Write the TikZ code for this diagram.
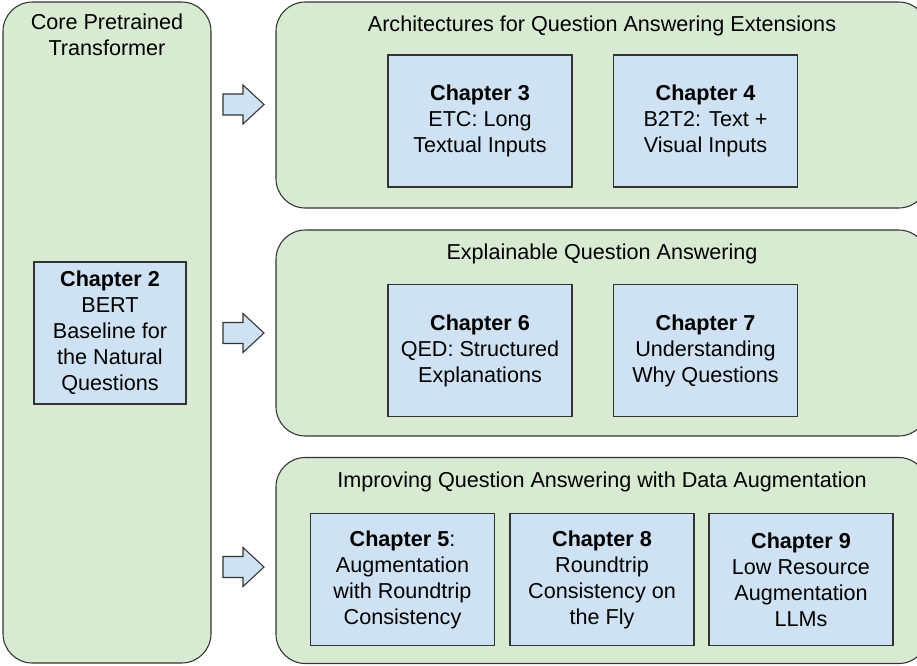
\documentclass[tikz,border=0pt]{standalone}
\usepackage{fontspec}
\setmainfont{Liberation Sans}

\definecolor{groupgreen}{HTML}{D9EAD3}
\definecolor{chapblue}{HTML}{CFE2F3}
\definecolor{edgegray}{HTML}{333333}

\begin{document}
\begin{tikzpicture}[
    x = 0.75pt, y = -0.75pt,
    font = \fontsize{16.2}{19.5}\selectfont,
    group/.style = {
      draw = edgegray,
      fill = groupgreen,
      line width = 0.8pt,
      rounded corners = 22pt,
      inner sep = 0,
    },
    chapter/.style = {
      draw = edgegray,
      fill = chapblue,
      line width = 0.8pt,
      align = center,
      inner sep = 0,
      minimum width = 138pt,
      minimum height = 99pt,
    },
    bigarrow/.style = {
      draw = edgegray,
      fill = chapblue,
      line width = 0.8pt,
      line join = miter,
    },
  ]
  \useasboundingbox (0,0) rectangle (917,665);

  % the core column on the left
  \node[group, minimum width = 156pt, minimum height = 495.75pt]
    (core) at (107,332.5) {};
  \node[align = center] (coretitle) at (107,35) {Core Pretrained\\Transformer};
  \node[chapter, minimum width = 114pt, minimum height = 106.5pt]
    (ch2) at (110,333) {\textbf{Chapter 2}\\BERT\\Baseline for\\the Natural\\Questions};

  % the three groups on the right, each with its arrow
  \foreach \num/\gy/\ay/\desc in {
    1/105/104.5/{Architectures for Question Answering Extensions},
    2/333/333/{Explainable Question Answering},
    3/560.5/567/{Improving Question Answering with Data Augmentation}
  }{
    \node[group, minimum width = 489pt, minimum height = 154.5pt]
      (grp\num) at (602,\gy) {};
    \node (title\num) at (602,\gy-79) {\desc};
    \draw[bigarrow] (223,\ay-10.5) -- (243,\ay-10.5) -- (243,\ay-19.5)
      -- (264,\ay) -- (243,\ay+19.5) -- (243,\ay+10.5)
      -- (223,\ay+10.5) -- cycle;
  }

  % chapters
  \node[chapter] (ch3) at (480,121)
    {\textbf{Chapter 3}\\ETC: Long\\Textual Inputs};
  \node[chapter] (ch4) at (705.5,121)
    {\textbf{Chapter 4}\\B2T2: Text +\\Visual Inputs};
  \node[chapter] (ch6) at (480,350.5)
    {\textbf{Chapter 6}\\QED: Structured\\Explanations};
  \node[chapter] (ch7) at (705.5,350.5)
    {\textbf{Chapter 7}\\Understanding\\Why Questions};
  \node[chapter] (ch5) at (402.5,579.5)
    {\textbf{Chapter 5}:\\Augmentation\\with Roundtrip\\Consistency};
  \node[chapter] (ch8) at (602,579.5)
    {\textbf{Chapter 8}\\Roundtrip\\Consistency on\\the Fly};
  \node[chapter] (ch9) at (801,579.5)
    {\textbf{Chapter 9}\\Low Resource\\Augmentation\\LLMs};

\end{tikzpicture}
\end{document}
